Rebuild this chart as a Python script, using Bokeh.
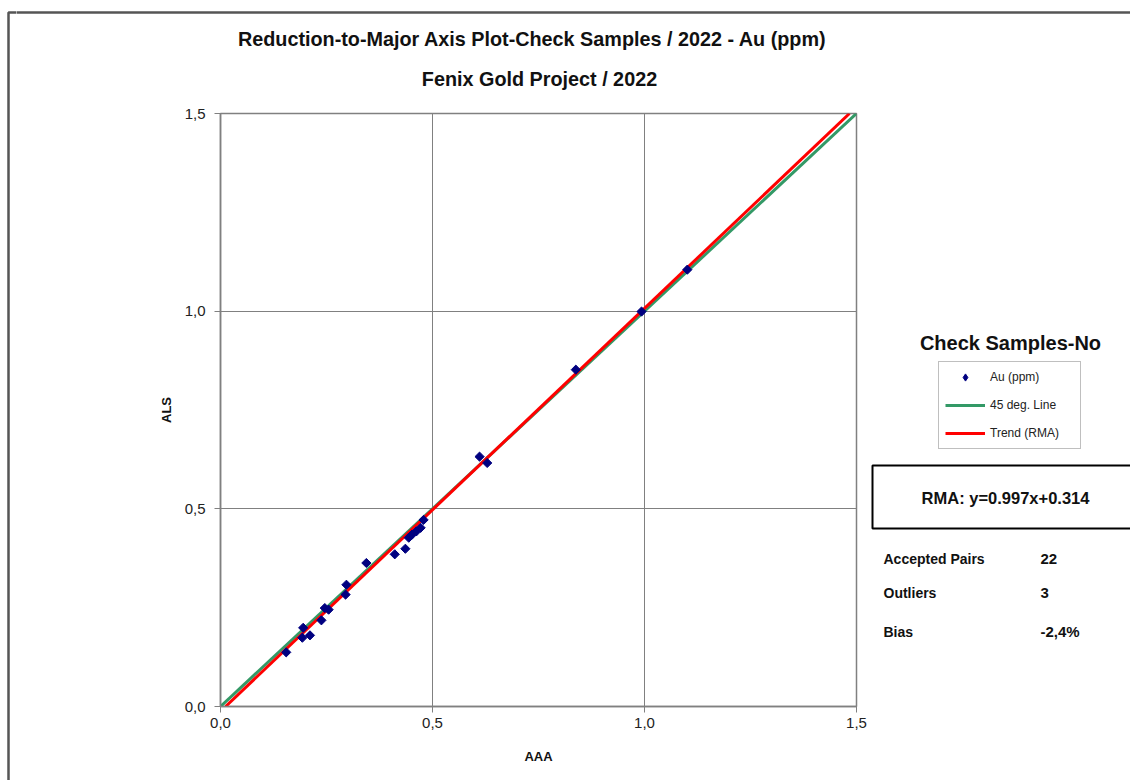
from bokeh.plotting import figure
from bokeh.models import (Range1d, FixedTicker, Label, Legend, LegendItem,
                          BoxAnnotation, ColumnDataSource)
from bokeh.layouts import row, column
from bokeh.embed import file_html
from bokeh.resources import INLINE
import math

# ---------------- data ----------------
aaa = [0.155, 0.193, 0.195, 0.211, 0.238, 0.246, 0.255, 0.295, 0.297, 0.344,
       0.411, 0.436, 0.444, 0.452, 0.462, 0.472, 0.479, 0.611, 0.629, 0.838,
       0.993, 1.101]
als = [0.137, 0.174, 0.199, 0.180, 0.218, 0.249, 0.245, 0.283, 0.308, 0.363,
       0.385, 0.399, 0.427, 0.435, 0.443, 0.452, 0.472, 0.632, 0.616, 0.852,
       0.999, 1.105]
line45_x = [0.0, 1.5]
line45_y = [0.0, 1.5]
trend_x = [0.012, 1.4835]
trend_y = [0.0, 1.5]

tick_vals = [0.0, 0.5, 1.0, 1.5]
tick_labels = ["0,0", "0,5", "1,0", "1,5"]

title_main = "Reduction-to-Major Axis Plot-Check Samples / 2022 - Au (ppm)"
title_sub = "Fenix Gold Project / 2022"
x_label = "AAA"
y_label = "ALS"
legend_title = "Check Samples-No"
series_names = ["Au (ppm)", "45 deg. Line", "Trend (RMA)"]
rma_text = "RMA: y=0.997x+0.314"
stat_names = ["Accepted Pairs", "Outliers", "Bias"]
stat_values = ["22", "3", "-2,4%"]

FONT = "Liberation Sans"
GREEN = "#339966"
RED = "#ff0000"
NAVY = "#000080"
FRAME = "#555555"

TOTAL_W, TOTAL_H = 1130, 780
STRIP_W = 16
HEAD_H = 100
FRAME_TOP, FRAME_BOTTOM = 113, 706          # page y of the plot frame
MB_TOP = FRAME_TOP - HEAD_H
MB_BOTTOM = TOTAL_H - FRAME_BOTTOM
MAIN_W = 204 + 636 + 14


def blank(w, h, x0, x1, y0, y1):
    """A figure whose plot frame is its whole canvas, in page-pixel coords."""
    f = figure(width=w, height=h, x_range=Range1d(x0, x1), y_range=Range1d(y1, y0),
               x_axis_type=None, y_axis_type=None, min_border=0,
               output_backend="svg", toolbar_location=None)
    f.min_border_left = f.min_border_right = f.min_border_top = f.min_border_bottom = 0
    f.outline_line_color = None
    f.background_fill_color = "white"
    f.border_fill_color = "white"
    f.title.visible = False
    return f


def lab(f, text, px, py, size, bold=True, align="center", color="#111111"):
    f.add_layout(Label(x=px, y=py, text=text, text_font=FONT, text_font_size=size,
                       text_font_style="bold" if bold else "normal",
                       text_align=align, text_baseline="middle",
                       text_color=color))


def box(f, left, right, top, bottom, color, width):
    f.add_layout(BoxAnnotation(left=left, right=right, top=top, bottom=bottom,
                               fill_alpha=0, line_color=color, line_alpha=1,
                               line_width=width))


# ---------------- left strip (outer frame line) ----------------
strip = blank(STRIP_W, TOTAL_H, 0, STRIP_W, 0, TOTAL_H)
box(strip, 8, 5000, 12, 5000, FRAME, 2.5)

# ---------------- header with the titles ----------------
head = blank(TOTAL_W - STRIP_W, HEAD_H, STRIP_W, TOTAL_W, 0, HEAD_H)
box(head, 8, 5000, 12, 5000, FRAME, 2.5)
lab(head, title_main, 532, 38, "19.8px")
lab(head, title_sub, 539, 78, "19.8px")

# ---------------- main scatter plot ----------------
p = figure(frame_width=636, frame_height=FRAME_BOTTOM - FRAME_TOP,
           min_border_left=204, min_border_right=14,
           min_border_top=MB_TOP, min_border_bottom=MB_BOTTOM,
           x_range=Range1d(0, 1.5), y_range=Range1d(0, 1.5),
           output_backend="svg", toolbar_location=None)
p.title.visible = False
p.background_fill_color = "white"
p.border_fill_color = "white"
p.outline_line_color = "#808080"
p.outline_line_width = 1.5

for ax in (p.xaxis[0], p.yaxis[0]):
    ax.ticker = FixedTicker(ticks=tick_vals)
    ax.major_label_overrides = dict(zip(tick_vals, tick_labels))
    ax.axis_line_color = "#808080"
    ax.axis_line_width = 1.5
    ax.major_tick_line_color = "#808080"
    ax.major_tick_in = 0
    ax.major_tick_out = 6
    ax.minor_tick_line_color = None
    ax.major_label_text_font = FONT
    ax.major_label_text_font_size = "15px"
    ax.major_label_text_color = "#222222"
    ax.axis_label_text_font = FONT
    ax.axis_label_text_font_size = "13px"
    ax.axis_label_text_font_style = "bold"
    ax.axis_label_text_color = "#111111"

p.xaxis.axis_label = x_label
p.yaxis.axis_label = y_label
p.xaxis.major_label_standoff = 5
p.xaxis.axis_label_standoff = 18
p.yaxis.major_label_standoff = 9
p.yaxis.axis_label_standoff = 8
p.yaxis.major_label_orientation = "horizontal"

for g in (p.xgrid[0], p.ygrid[0]):
    g.ticker = FixedTicker(ticks=tick_vals)
    g.grid_line_color = "#808080"
    g.grid_line_width = 1

src = ColumnDataSource(dict(x=aaa, y=als))
p.line(line45_x, line45_y, line_color=GREEN, line_width=3)
p.line(trend_x, trend_y, line_color=RED, line_width=3)
p.scatter("x", "y", source=src, marker="square", angle=math.pi / 4,
          size=6.5, fill_color=NAVY, line_color=NAVY)

# ---------------- right side: legend, RMA box, statistics ----------------
side_x0 = STRIP_W + MAIN_W
side_w = TOTAL_W - side_x0
side = figure(frame_width=side_w, frame_height=FRAME_BOTTOM - FRAME_TOP,
              min_border_left=0, min_border_right=0,
              min_border_top=MB_TOP, min_border_bottom=MB_BOTTOM,
              x_range=Range1d(side_x0, TOTAL_W),
              y_range=Range1d(FRAME_BOTTOM, FRAME_TOP),   # page-pixel coords, y down
              x_axis_type=None, y_axis_type=None,
              output_backend="svg", toolbar_location=None)
side.outline_line_color = None
side.background_fill_color = "white"
side.border_fill_color = "white"
side.title.visible = False

# legend renderers use the same data (they lie outside this panel's ranges)
s_sc = side.scatter(aaa, als, marker="diamond", size=9,
                    fill_color=NAVY, line_color=NAVY)
s_45 = side.line(line45_x, line45_y, line_color=GREEN, line_width=3)
s_tr = side.line(trend_x, trend_y, line_color=RED, line_width=3)

legend = Legend(items=[LegendItem(label=series_names[0], renderers=[s_sc]),
                       LegendItem(label=series_names[1], renderers=[s_45]),
                       LegendItem(label=series_names[2], renderers=[s_tr])],
                location=(938 - side_x0, FRAME_BOTTOM - 449), margin=0, padding=6,
                spacing=10, label_height=18, glyph_height=18, glyph_width=40,
                label_standoff=5, label_width=84,
                border_line_color="#808080", border_line_width=1,
                background_fill_color="white", background_fill_alpha=1,
                label_text_font=FONT, label_text_font_size="12px",
                label_text_color="#222222")
side.add_layout(legend)

lab(side, legend_title, 1010, 342, "20px")
box(side, 872, 1300, 465, 528, "#000000", 2)
lab(side, rma_text, 1005, 497, "16.5px")
for n, v, ypix in zip(stat_names, stat_values, [558, 592, 631]):
    lab(side, n, 883, ypix, "14px", align="left")
    lab(side, v, 1040, ypix, "15px", align="left")

layout = row(strip, column(head, row(p, side, spacing=0), spacing=0), spacing=0)
open("out.html", "w").write(file_html(layout, INLINE))
